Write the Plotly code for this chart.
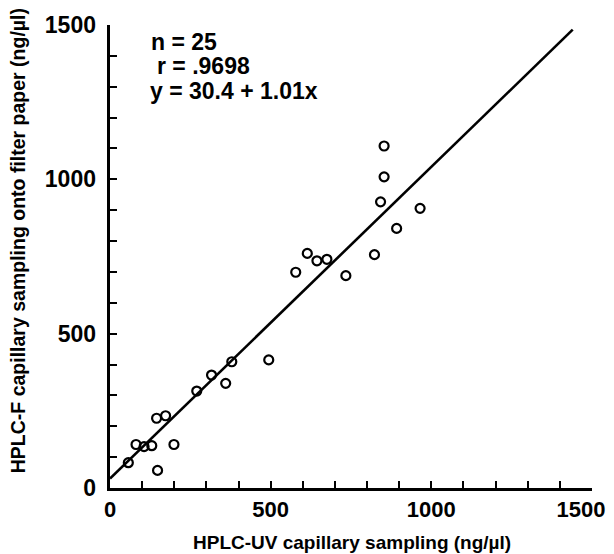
import plotly.graph_objects as go

# Data
uv_x = [57, 81, 106, 130, 148, 145, 173, 199, 270, 316, 360, 379, 494,
        578, 614, 644, 675, 734, 823, 892, 842, 853, 853, 965]
f_y = [82, 141, 134, 137, 57, 226, 234, 141, 314, 366, 339, 409, 415,
       699, 760, 736, 741, 688, 756, 841, 927, 1008, 1108, 906]

fit_x = [0, 1440]
fit_y = [30.4, 1484.8]

tick_vals = [0, 500, 1000, 1500]
x_tick_text = ["0", "500", "1000", "1500\u2003"]
y_tick_text = ["0 ", "500 ", "1000 ", "1500 "]

stats_lines = ["n = 25", "r = .9698", "y = 30.4 + 1.01x"]

FONT = "Liberation Sans, Arial, Helvetica, sans-serif"

fig = go.Figure()
fig.add_trace(go.Scatter(x=fit_x, y=fit_y, mode="lines",
                         line=dict(color="black", width=2.6),
                         showlegend=False, hoverinfo="skip"))
fig.add_trace(go.Scatter(x=uv_x, y=f_y, mode="markers",
                         marker=dict(symbol="circle-open", size=9, color="black",
                                     line=dict(width=2.2, color="black")),
                         showlegend=False))

axis_common = dict(
    range=[0, 1500], showgrid=False, zeroline=False,
    showline=True, linecolor="black", linewidth=3,
    ticks="inside", ticklen=7, tickwidth=2, tickcolor="black",
    tickmode="array", tickvals=tick_vals,
    minor=dict(dtick=100, tick0=0, ticks="inside", ticklen=7, tickwidth=2,
               tickcolor="black", showgrid=False),
    automargin=False,
    ticklabeloverflow="allow",
)

fig.update_xaxes(**axis_common, ticktext=x_tick_text,
                 tickfont=dict(family=FONT, size=22, color="black", weight="bold"))
fig.update_yaxes(**axis_common, ticktext=y_tick_text,
                 tickfont=dict(family=FONT, size=23, color="black", weight="bold"))

ann = []
ys = [0.963, 0.911, 0.857]
xs = [0.081, 0.094, 0.079]
for t, xp, yp in zip(stats_lines, xs, ys):
    ann.append(dict(text=t, x=xp, y=yp, xref="paper", yref="paper",
                    xanchor="left", yanchor="middle", showarrow=False,
                    font=dict(family=FONT, size=23, color="black", weight="bold")))

ann.append(dict(text="HPLC-UV capillary sampling (ng/µl)", x=0.502, y=-0.117,
                xref="paper", yref="paper", xanchor="center", yanchor="middle",
                showarrow=False,
                font=dict(family=FONT, size=19, color="black", weight="bold")))
ann.append(dict(text="HPLC-F capillary sampling onto filter paper (ng/µl)",
                x=-0.191, y=0.535, xref="paper", yref="paper",
                xanchor="center", yanchor="middle", textangle=-90, showarrow=False,
                font=dict(family=FONT, size=19.5, color="black", weight="bold")))

fig.update_layout(
    width=614, height=554, autosize=False,
    margin=dict(l=110, r=22, t=25, b=66, autoexpand=False),
    paper_bgcolor="white", plot_bgcolor="white",
    annotations=ann,
)

fig.write_html("out.html", config={"displayModeBar": False},
               post_script="document.body.style.margin='0';document.body.style.overflow='hidden';")
